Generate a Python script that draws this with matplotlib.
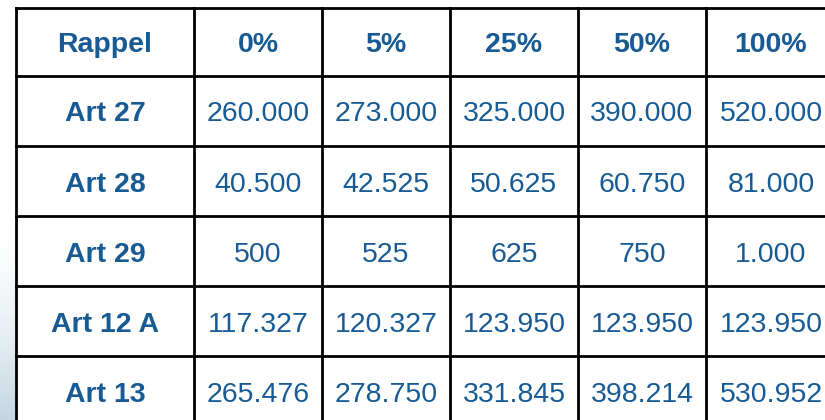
import numpy as np
import matplotlib.pyplot as plt
from matplotlib.colors import LinearSegmentedColormap

plt.rcParams['font.family'] = ['Liberation Sans', 'DejaVu Sans']

# table content
columns = ['Rappel', '0%', '5%', '25%', '50%', '100%']
rows = ['Art 27', 'Art 28', 'Art 29', 'Art 12 A', 'Art 13']
values = [
    ['260.000', '273.000', '325.000', '390.000', '520.000'],
    ['40.500', '42.525', '50.625', '60.750', '81.000'],
    ['500', '525', '625', '750', '1.000'],
    ['117.327', '120.327', '123.950', '123.950', '123.950'],
    ['265.476', '278.750', '331.845', '398.214', '530.952'],
]

# layout in pixels
col_edges = [16, 194, 322, 450, 578, 706, 836]
row_edges = [8, 75.5, 146, 216, 286, 356, 426]
text_color = '#175a94'

fig = plt.figure(figsize=(8.25, 4.2), dpi=100)
ax = fig.add_axes([0, 0, 1, 1])
ax.set_xlim(0, 825)
ax.set_ylim(420, 0)
ax.axis('off')

# faint blue gradient behind the table, bottom left
cmap = LinearSegmentedColormap.from_list('bg', ['#ffffff', '#c4d7e2'])
grad = np.linspace(0, 1, 200).reshape(-1, 1) ** 1.5
ax.imshow(grad, cmap=cmap, extent=[0, 16, 420, 220], aspect='auto', zorder=0)

# white cells
ax.fill_between([col_edges[0], col_edges[-1]], row_edges[0], row_edges[-1],
                color='white', zorder=1)

# grid lines
for x in col_edges:
    ax.plot([x, x], [row_edges[0], row_edges[-1]], color='black', lw=2.0, zorder=3,
            solid_capstyle='projecting')
for y in row_edges:
    ax.plot([col_edges[0], col_edges[-1]], [y, y], color='black', lw=2.0, zorder=3,
            solid_capstyle='projecting')

def cell_anchor(r, c):
    # horizontal centre, baseline a little below the vertical centre
    return (col_edges[c] + col_edges[c + 1]) / 2, (row_edges[r] + row_edges[r + 1]) / 2 + 10.5

# header
for c, name in enumerate(columns):
    x, y = cell_anchor(0, c)
    ax.text(x, y, name, ha='center', va='baseline', fontsize=20.5,
            fontweight='bold', color=text_color, zorder=4)

# body
for r, name in enumerate(rows):
    x, y = cell_anchor(r + 1, 0)
    ax.text(x, y, name, ha='center', va='baseline', fontsize=20.5,
            fontweight='bold', color=text_color, zorder=4)
    for c, val in enumerate(values[r]):
        x, y = cell_anchor(r + 1, c + 1)
        ax.text(x, y, val, ha='center', va='baseline', fontsize=20.5,
                color=text_color, zorder=4)

fig.savefig('out.png', dpi=100)
